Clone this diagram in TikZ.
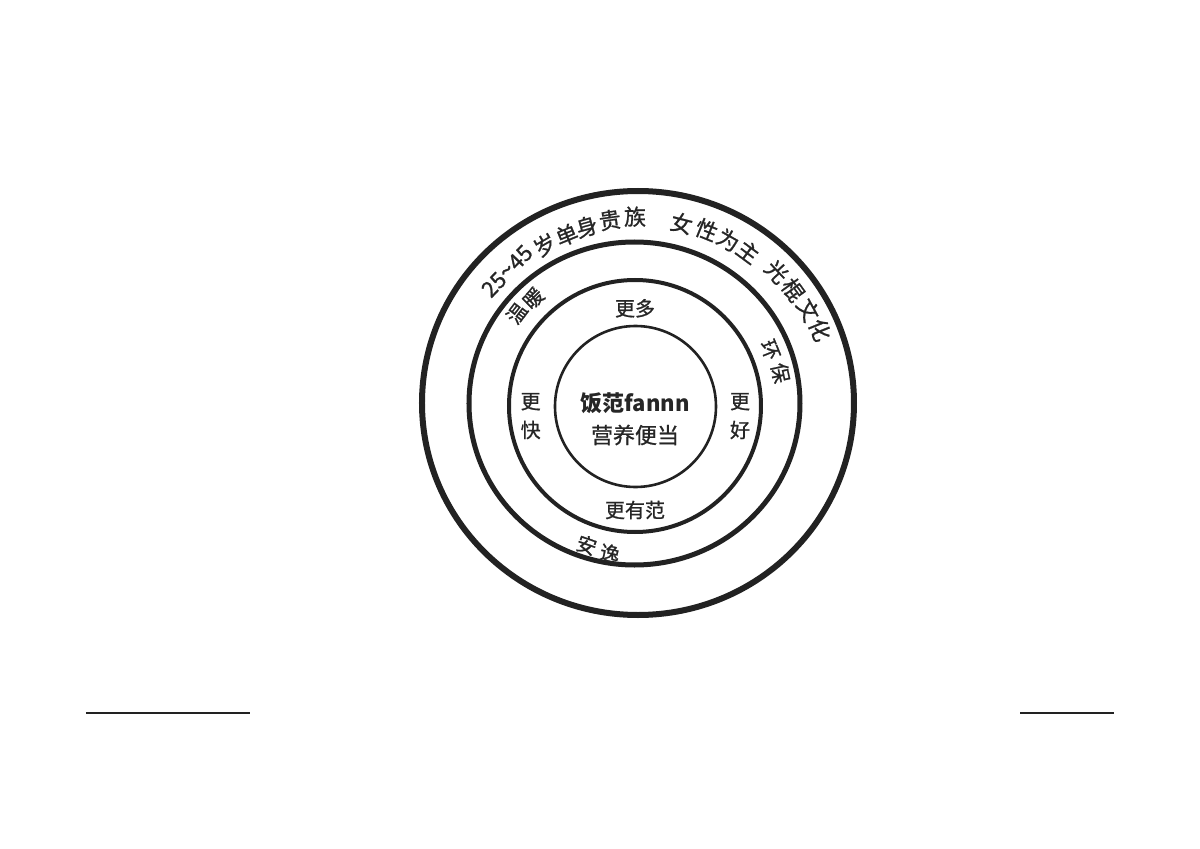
\documentclass[tikz,border=0pt]{standalone}
\usepackage{fontspec}
\setmainfont{Noto Sans CJK SC}
\newfontfamily\medfont{Noto Sans CJK SC}[FakeBold=0.9]
\definecolor{ink}{HTML}{222222}
\definecolor{txt}{HTML}{262626}
\begin{document}
\begin{tikzpicture}[x=1pt,y=1pt,
  ring/.style={draw=ink},
  outer/.style={text=txt,inner sep=0pt,font=\medfont\fontsize{22pt}{22pt}\selectfont},
  lab/.style={text=txt,inner sep=0pt,font=\medfont\fontsize{20pt}{20pt}\selectfont},
  ctr/.style={text=txt,inner sep=0pt,font=\medfont\fontsize{22pt}{22pt}\selectfont},
  rule/.style={draw=ink,line width=1.3pt}]
\useasboundingbox (-636,-445) rectangle (564,404);
% rings
\draw[ring,line width=6pt] (2,1) ellipse [x radius=216,y radius=212];
\draw[ring,line width=5pt] (-1.5,0.5) ellipse [x radius=165.5,y radius=161.5];
\draw[ring,line width=4pt] (-1,-2) circle [radius=126];
\draw[ring,line width=2.6pt] (-0.5,-2.5) circle [radius=80.5];
% outer ring text
\node[outer,rotate=46] (age) at (-129,133) {25{\fontsize{24pt}{24pt}\selectfont\textasciitilde}45};
\foreach \t/\x/\y/\r [count=\i] in {
  岁/-91/159/29.8,
  单/-69.3/169/22.3, 身/-49.3/177.3/15.5, 贵/-26/184/8, 族/-1/187.3/0.3,
  女/45.7/180.7/-14.2, 性/70.7/174/-22.1, 为/92.3/164/-29.4, 主/112.3/152.3/-36.4,
  光/140.7/132.3/-46.8, 棍/157.3/114/-54.1, 文/172.3/94/-61.4, 化/184/74/-68.1}
  \node[outer,rotate=\r] (o\i) at (\x,\y) {\t};
% middle ring text
\foreach \t/\x/\y/\r [count=\i] in {
  温/-119.3/90.7/52.8, 暖/-102.7/105.7/44.2,
  环/134/54/-68.1, 保/144.5/31/-77.9,
  安/-49.3/-141/-19, 逸/-26/-149.3/-12}
  \node[lab,rotate=\r] (m\i) at (\x,\y) {\t};
% inner ring text
\node[lab] (more) at (-1,95.7) {更多};
\node[lab] (fan) at (-1,-106) {更有范};
\node[lab] (fl1) at (-105.3,2.3) {更};
\node[lab] (fl2) at (-105.3,-26) {快};
\node[lab] (fr1) at (104,2.3) {更};
\node[lab] (fr2) at (104,-26) {好};
% centre
\node[ctr,font=\fontsize{22pt}{22pt}\selectfont\bfseries] (name) at (-1,0.7) {饭范fannn};
\node[ctr] (slogan) at (-1,-31) {营养便当};
% bottom rules
\coordinate (la) at (-550,-309);
\coordinate (lb) at (-386,-309);
\coordinate (ra) at (384,-309);
\coordinate (rb) at (478,-309);
\draw[rule] (la) -- (lb);
\draw[rule] (ra) -- (rb);
\end{tikzpicture}
\end{document}
